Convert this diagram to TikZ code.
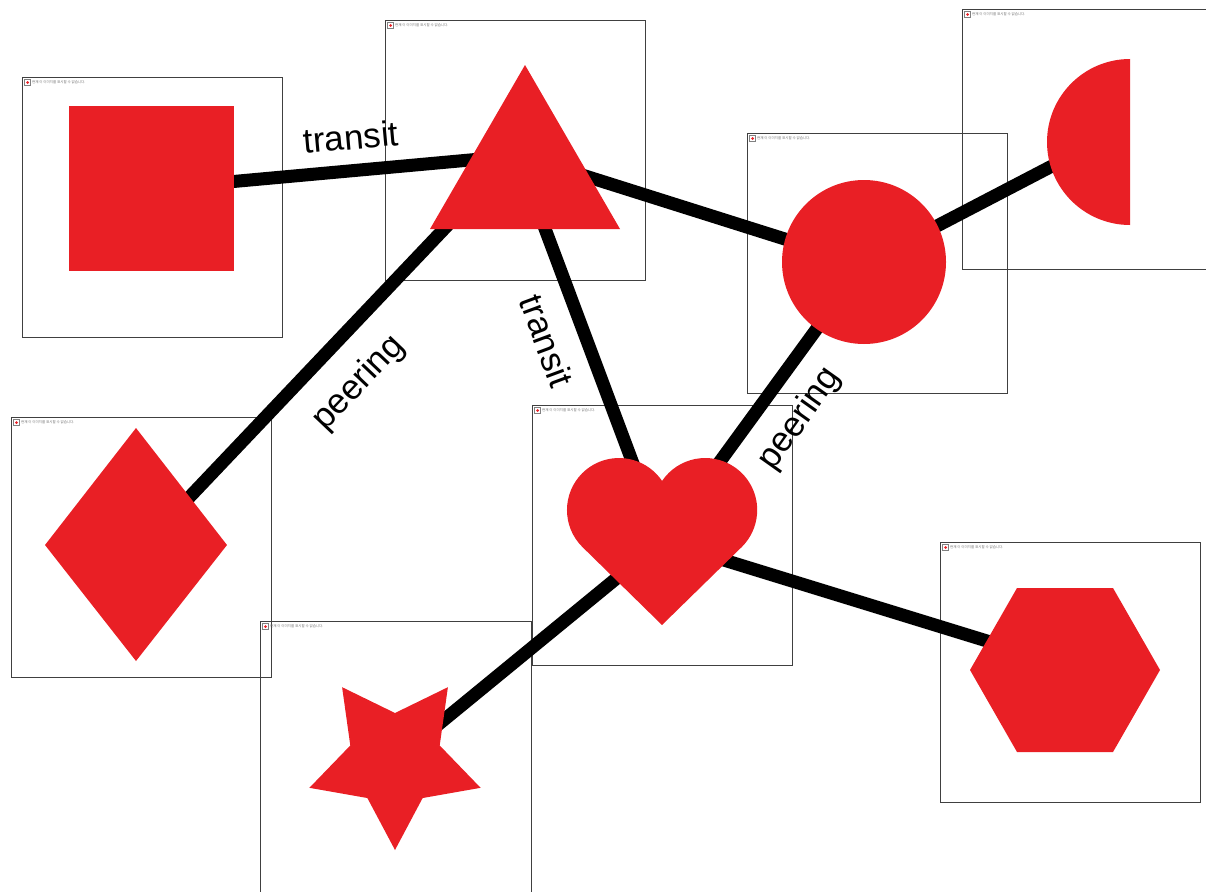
\documentclass[tikz,border=0pt]{standalone}
\usepackage{fontspec}
\setmainfont{Liberation Sans}
\newfontfamily\krfont{Noto Sans CJK KR}
\definecolor{shapered}{RGB}{233,31,37}
\begin{document}
\begin{tikzpicture}[x=1pt,y=-1pt,
  frame/.style={draw=black!75,line width=0.9pt},
  link/.style={line width=13pt},
  redfill/.style={fill=shapered},
  lbl/.style={font=\fontsize{35}{40}\selectfont, inner sep=0pt},
  note/.style={anchor=west, inner sep=0pt, font=\krfont\fontsize{3.5}{4}\selectfont, text=black!55}]
\useasboundingbox (0,0) rectangle (1206,891);
\clip (0,0) rectangle (1206,891);
% image frames with broken-image notes
\foreach \x/\y/\w/\h in {22/77/260/260, 385/20/260/260, 962/9/260/260, 747/133/260/260,
  11/417/260/260, 532/405/260/260, 260/621/271/275, 940/542/260/260}{
  \draw[frame] (\x,\y) rectangle ++(\w,\h);
  \draw[draw=black!50, line width=0.5pt] (\x+2.5,\y+2.5) rectangle ++(6,6);
  \fill[shapered] (\x+5.5,\y+5.5) circle (1.5);
  \node[note] (note\x) at (\x+10,\y+5.5) {현재 이 이미지를 표시할 수 없습니다.};
}
% connection points
\coordinate (sqC) at (151,189);
\coordinate (triA) at (525,155);
\coordinate (triB) at (525,157);
\coordinate (triC) at (519,150);
\coordinate (triD) at (520,162);
\coordinate (cirC) at (864,264);
\coordinate (halfC) at (1100,141);
\coordinate (diaC) at (144,545);
\coordinate (heaC) at (662,541);
\coordinate (staC) at (395,760);
\coordinate (hexC) at (1065,665);
% connectors
\draw[link] (sqC) -- (triA);
\draw[link] (triB) -- (cirC);
\draw[link] (cirC) -- (halfC);
\draw[link] (triC) -- (diaC);
\draw[link] (triD) -- (heaC);
\draw[link] (cirC) -- (heaC);
\draw[link] (heaC) -- (staC);
\draw[link] (heaC) -- (hexC);
% shapes
\fill[redfill] (69,106) rectangle (234,271);
\fill[redfill] (525,65) -- (620,229) -- (430,229) -- cycle;
\fill[redfill] (1130,59) arc[start angle=270, end angle=90, radius=83] -- cycle;
\fill[redfill] (864,262) circle (82);
\fill[redfill] (136,428) -- (227,545) -- (136,661) -- (45,545) -- cycle;
\fill[redfill] (582.2,546.8) arc[start angle=135, end angle=326, radius=52]
  arc[start angle=214, end angle=405, radius=52] -- (662,625) -- cycle;
\begin{scope}[shift={(395,760)}]
  \fill[redfill] (90:90) -- (126:47) -- (162:90) -- (198:47) -- (234:90) -- (270:47)
    -- (306:90) -- (342:47) -- (18:90) -- (54:47) -- cycle;
\end{scope}
\fill[redfill] (970,670) -- (1017,588) -- (1113,588) -- (1160,670) -- (1113,752) -- (1017,752) -- cycle;
% labels
\node[lbl, rotate=5.2] (l1) at (351,137) {transit};
\node[lbl, rotate=46.5] (l2) at (359,383) {peering};
\node[lbl, rotate=-69.7] (l3) at (547,341) {transit};
\node[lbl, rotate=54.7] (l4) at (800,419) {peering};
\end{tikzpicture}
\end{document}
